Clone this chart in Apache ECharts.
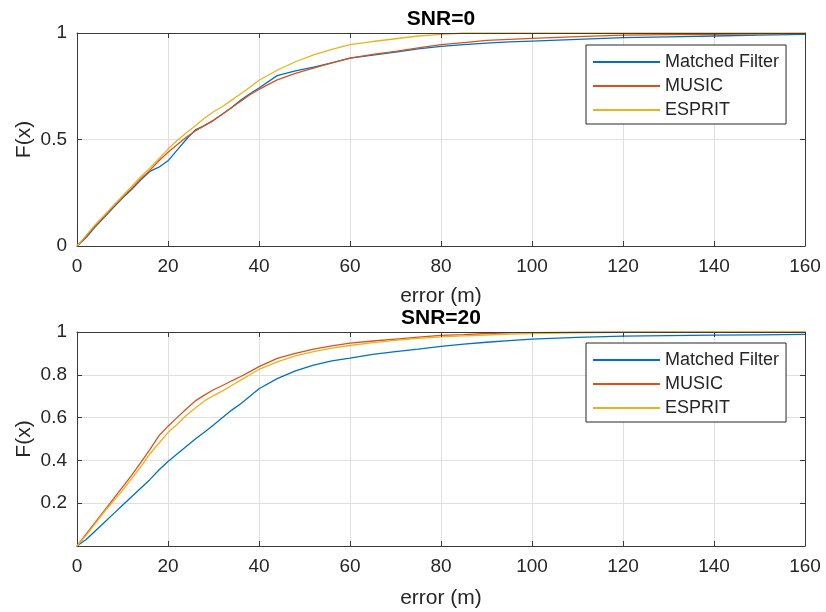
<!DOCTYPE html>
<html>
<head>
<meta charset="utf-8">
<title>CDF of ranging error</title>
<script src="https://cdn.jsdelivr.net/npm/echarts@6/dist/echarts.min.js"></script>
<style>
  html, body { margin: 0; padding: 0; background: #ffffff; }
  #chart { width: 826px; height: 612px; }
</style>
</head>
<body>
<div id="chart"></div>
<script>
// Error values (m) at which the empirical CDFs are sampled
const errX = [0,2,4,6,8,10,12,14,16,18,20,22,24,26,28,30,32,34,36,38,40,44,48,52,56,60,65,70,75,80,85,90,95,100,110,120,130,140,150,160];

// SNR = 0
const snr0MF     = [0,0.04,0.09,0.135,0.18,0.225,0.265,0.31,0.35,0.37,0.4,0.45,0.5,0.545,0.565,0.59,0.62,0.65,0.685,0.715,0.742,0.8,0.822,0.84,0.86,0.882,0.896,0.91,0.925,0.937,0.945,0.952,0.958,0.962,0.97,0.978,0.982,0.986,0.99,0.994];
const snr0MUSIC  = [0,0.045,0.095,0.14,0.185,0.23,0.27,0.315,0.355,0.4,0.44,0.475,0.51,0.54,0.565,0.59,0.62,0.65,0.68,0.71,0.735,0.78,0.81,0.835,0.86,0.882,0.9,0.914,0.93,0.945,0.955,0.965,0.97,0.975,0.983,0.99,0.992,0.994,0.996,0.998];
const snr0ESPRIT = [0,0.05,0.1,0.145,0.19,0.235,0.28,0.325,0.365,0.41,0.455,0.495,0.53,0.565,0.6,0.63,0.655,0.685,0.715,0.745,0.778,0.825,0.865,0.897,0.923,0.945,0.96,0.973,0.986,0.994,1,1,1,1,1,1,1,1,1,1];

// SNR = 20
const snr20MF     = [0,0.03,0.07,0.11,0.15,0.19,0.23,0.27,0.31,0.355,0.395,0.43,0.465,0.5,0.532,0.565,0.6,0.635,0.665,0.7,0.735,0.782,0.818,0.845,0.865,0.878,0.895,0.908,0.92,0.933,0.943,0.952,0.96,0.967,0.975,0.981,0.983,0.985,0.987,0.989];
const snr20MUSIC  = [0,0.055,0.11,0.165,0.22,0.275,0.33,0.39,0.45,0.515,0.56,0.6,0.64,0.678,0.705,0.73,0.75,0.772,0.792,0.815,0.838,0.877,0.9,0.92,0.935,0.948,0.958,0.967,0.976,0.984,0.988,0.993,0.996,0.997,0.999,1,1,1,1,1];
const snr20ESPRIT = [0,0.05,0.105,0.16,0.21,0.26,0.315,0.37,0.43,0.48,0.53,0.568,0.61,0.645,0.678,0.703,0.725,0.75,0.775,0.8,0.825,0.86,0.888,0.908,0.925,0.937,0.95,0.961,0.97,0.977,0.982,0.986,0.99,0.993,0.996,0.998,0.999,1,1,1];

const methodNames = ['Matched Filter', 'MUSIC', 'ESPRIT'];
const panelTitles = ['SNR=0', 'SNR=20'];
const xLabel = 'error (m)';
const yLabel = 'F(x)';

const colors = ['#0072BD', '#D95319', '#EDB120'];
const FONT = '"Liberation Sans", Arial, Helvetica, sans-serif';
const TXT = '#262626';
const AX = '#3a3a3a';
const GRIDC = '#e0e0e0';

const chart = echarts.init(document.getElementById('chart'), null, { renderer: 'canvas' });

const grids = [
  { left: 77, top: 33, width: 728, height: 213 },
  { left: 77, top: 332, width: 728, height: 214 }
];

function bottomX(gi, gap) {
  return {
    type: 'value', gridIndex: gi, position: 'bottom', min: 0, max: 160, interval: 20,
    name: xLabel, nameLocation: 'middle', nameGap: gap,
    nameTextStyle: { fontFamily: FONT, fontSize: 21, color: TXT },
    axisLine: { show: true, onZero: false, lineStyle: { color: AX, width: 1 } },
    axisTick: { show: true, inside: true, length: 5, lineStyle: { color: AX } },
    axisLabel: { fontFamily: FONT, fontSize: 19, color: TXT, margin: 11 },
    splitLine: { show: true, lineStyle: { color: GRIDC, width: 1 } }
  };
}
function topX(gi, title) {
  return {
    type: 'value', gridIndex: gi, position: 'top', min: 0, max: 160, interval: 20, z: 5,
    name: title, nameLocation: 'middle', nameGap: 3,
    nameTextStyle: { fontFamily: FONT, fontSize: 21, fontWeight: 'bold', color: '#000' },
    axisLine: { show: true, onZero: false, lineStyle: { color: AX, width: 1 } },
    axisTick: { show: true, inside: true, length: 5, lineStyle: { color: AX } },
    axisLabel: { show: false },
    splitLine: { show: false }
  };
}
function leftY(gi, interval, fmt) {
  return {
    type: 'value', gridIndex: gi, position: 'left', min: 0, max: 1, interval: interval,
    name: yLabel, nameLocation: 'middle', nameGap: 42, nameRotate: 90,
    nameMoveOverlap: false,
    nameTextStyle: { fontFamily: FONT, fontSize: 21, color: TXT },
    axisLine: { show: true, onZero: false, lineStyle: { color: AX, width: 1 } },
    axisTick: { show: true, inside: true, length: 5, lineStyle: { color: AX } },
    axisLabel: { fontFamily: FONT, fontSize: 19, color: TXT, margin: 10, formatter: fmt },
    splitLine: { show: true, lineStyle: { color: GRIDC, width: 1 } }
  };
}
function rightY(gi, interval) {
  return {
    type: 'value', gridIndex: gi, position: 'right', min: 0, max: 1, interval: interval, z: 5,
    axisLine: { show: true, onZero: false, lineStyle: { color: AX, width: 1 } },
    axisTick: { show: true, inside: true, length: 5, lineStyle: { color: AX } },
    axisLabel: { show: false },
    splitLine: { show: false }
  };
}

function lineSeries(name, vals, ci, axisIdx) {
  return {
    type: 'line', name: name,
    xAxisIndex: axisIdx, yAxisIndex: axisIdx,
    data: errX.map((x, i) => [x, vals[i]]),
    showSymbol: false, symbol: 'none', smooth: false,
    lineStyle: { color: colors[ci], width: 1.3 },
    itemStyle: { color: colors[ci] },
    z: 2
  };
}

function legendAt(top) {
  return {
    orient: 'vertical', left: 586, top: top,
    data: methodNames,
    icon: 'rect',
    itemWidth: 67, itemHeight: 2, itemGap: 6,
    padding: [8, 7, 5, 7],
    backgroundColor: '#ffffff', borderColor: '#262626', borderWidth: 1, borderRadius: 0,
    textStyle: { fontFamily: FONT, fontSize: 18, color: TXT },
    selectedMode: false, z: 10
  };
}

const option = {
  animation: false,
  backgroundColor: '#ffffff',
  grid: grids,
  xAxis: [bottomX(0, 40), bottomX(1, 42), topX(0, panelTitles[0]), topX(1, panelTitles[1])],
  yAxis: [
    leftY(0, 0.5, v => String(+v.toFixed(1))),
    leftY(1, 0.2, v => (v === 0 ? '' : String(+v.toFixed(1)))),
    rightY(0, 0.5),
    rightY(1, 0.2)
  ],
  legend: [legendAt(45), legendAt(343)],
  series: [
    lineSeries(methodNames[0], snr0MF, 0, 0),
    lineSeries(methodNames[1], snr0MUSIC, 1, 0),
    lineSeries(methodNames[2], snr0ESPRIT, 2, 0),
    lineSeries(methodNames[0], snr20MF, 0, 1),
    lineSeries(methodNames[1], snr20MUSIC, 1, 1),
    lineSeries(methodNames[2], snr20ESPRIT, 2, 1)
  ]
};

chart.setOption(option);
</script>
</body>
</html>
